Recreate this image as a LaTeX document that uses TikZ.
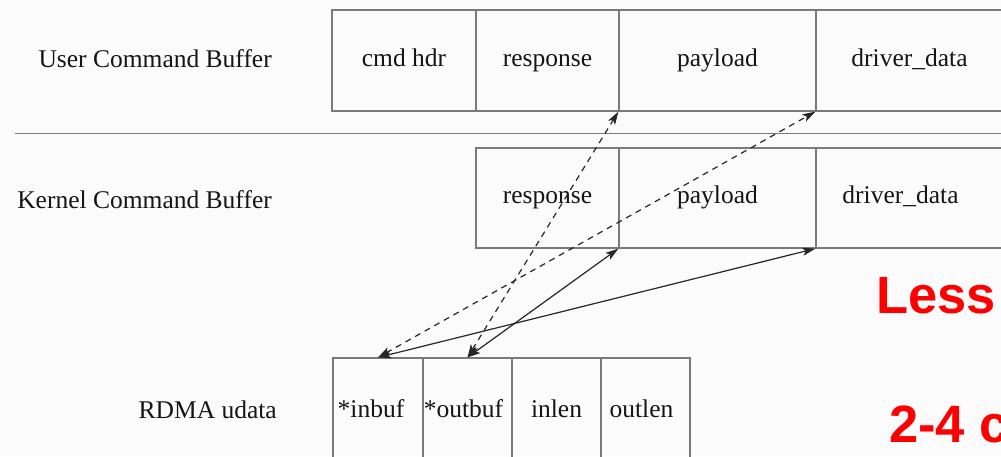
\documentclass[tikz,border=0pt]{standalone}
\usepackage{fontspec}
\setmainfont{Liberation Serif}
\newfontfamily\redsans{Liberation Sans}
\usetikzlibrary{arrows.meta}
\definecolor{bgcol}{HTML}{FBFBFB}
\definecolor{boxgray}{HTML}{7A7A7A}
\definecolor{txtcol}{HTML}{151515}
\definecolor{arrcol}{HTML}{262626}
\definecolor{redtxt}{HTML}{FF0000}
\begin{document}
\begin{tikzpicture}[x=1pt,y=-1pt,
  cell/.style={draw=boxgray, line width=1.2pt, inner sep=0pt, text=txtcol,
    text height=17pt, text depth=6pt, font=\fontsize{25.5}{30}\selectfont},
  rowlabel/.style={anchor=base east, inner sep=0pt, text=txtcol, font=\fontsize{25.5}{30}\selectfont},
  link/.style={{Stealth[length=13pt,width=8pt,inset=3pt]}-{Stealth[length=13pt,width=8pt,inset=3pt]}, line width=1.2pt, draw=arrcol},
  dlink/.style={link, dash pattern=on 6pt off 5pt},
  bigred/.style={anchor=base west, inner sep=0pt, text=redtxt, font=\redsans\bfseries\fontsize{52.5}{60}\selectfont}
]
\fill[bgcol] (0,0) rectangle (1001,456);
\useasboundingbox (0,0) rectangle (1001,456);
\clip (0,0) rectangle (1001,456);

% separator
\coordinate (sepL) at (15,133.5);
\coordinate (sepR) at (1003,133.5);
\draw[boxgray, line width=1.2pt] (sepL) -- (sepR);

% row labels
\node[rowlabel] (ulabel) at (272,67) {User Command Buffer};
\node[rowlabel] (klabel) at (272,208) {Kernel Command Buffer};
\node[rowlabel] (rlabel) at (277,418) {RDMA udata};

% user command buffer
\node[cell, minimum width=144pt, minimum height=101pt] (uhdr) at (404,60.5) {cmd hdr};
\node[cell, minimum width=143pt, minimum height=101pt] (uresp) at (547.5,60.5) {response};
\node[cell, minimum width=197pt, minimum height=101pt] (upay) at (717.5,60.5) {payload};
\node[cell, minimum width=187pt, minimum height=101pt] (udrv) at (909.5,60.5) {driver\_data};

% kernel command buffer
\node[cell, minimum width=143pt, minimum height=100pt] (kresp) at (547.5,198) {response};
\node[cell, minimum width=197pt, minimum height=100pt] (kpay) at (717.5,198) {payload};
\node[cell, minimum width=187pt, minimum height=100pt] (kdrv) at (909.5,198) {\hspace*{-18pt}driver\_data};

% RDMA udata
\node[cell, minimum width=90pt, minimum height=108pt] (inbuf) at (378,412) {\hspace*{-14pt}*inbuf};
\node[cell, minimum width=89pt, minimum height=108pt] (outbuf) at (467.5,412) {\hspace*{-8pt}*outbuf};
\node[cell, minimum width=89pt, minimum height=108pt] (inlen) at (556.5,412) {inlen};
\node[cell, minimum width=89pt, minimum height=108pt] (outlen) at (645.5,412) {\hspace*{-8pt}outlen};

% connectors
\draw[dlink] (inbuf.north) -- (udrv.south west);
\draw[dlink] (outbuf.north) -- (upay.south west);
\draw[link] (inbuf.north) -- (kdrv.south west);
\draw[link] (outbuf.north) -- (kpay.south west);

% red overlay text
\node[bigred] (less) at (876,313) {Less};
\node[bigred] (cores) at (889,442) {2-4 c};
\end{tikzpicture}
\end{document}
